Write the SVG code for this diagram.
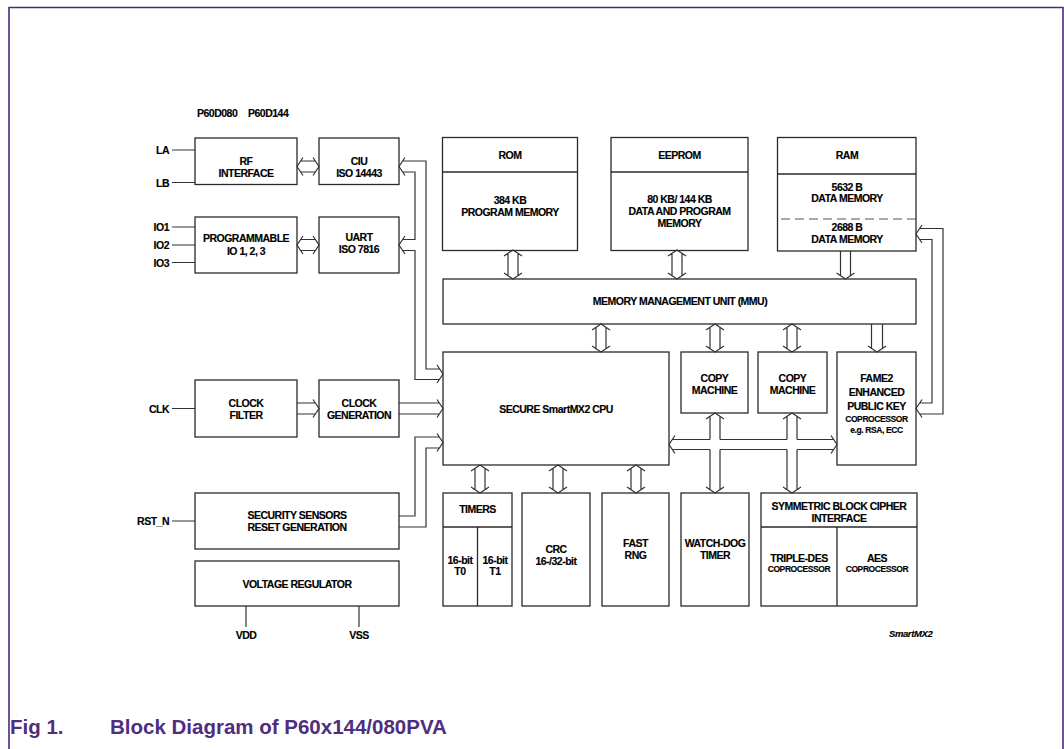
<svg xmlns="http://www.w3.org/2000/svg" width="1064" height="749" viewBox="0 0 1064 749">
<style>
.frame{fill:none;stroke:#4b2a7b;stroke-width:1.6}
.b{fill:#fff;stroke:#2a2a2a;stroke-width:1.3}
.d{fill:none;stroke:#2a2a2a;stroke-width:1.3}
.dash{fill:none;stroke:#555;stroke-width:1.2;stroke-dasharray:9,5}
.c{fill:none;stroke:#333;stroke-width:1.2;stroke-linejoin:miter}
.t{font-family:"Liberation Sans",Arial,sans-serif;font-weight:bold;font-size:10.5px;letter-spacing:-0.5px;text-anchor:middle;fill:#000;stroke:#000;stroke-width:0.15}
.s{font-size:8.5px;letter-spacing:-0.4px}
.l{text-anchor:end}
.st{text-anchor:start}
.cap{font-family:"Liberation Sans",Arial,sans-serif;font-weight:bold;font-size:20.5px;fill:#4f2d7f}
</style>
<rect width="1064" height="749" fill="#fff"/>
<path class="frame" d="M9,749 V7.5 H1063 V749"/>

<text class="t st" x="197" y="117">P60D080</text>
<text class="t st" x="248" y="117">P60D144</text>

<g id="pins">
<path class="c" d="M172,150 H195 M172,182.5 H195 M172,227 H195 M172,245 H195 M172,262.5 H195 M172,408.5 H195 M172,521 H195 M246,606 V627 M359,606 V627"/>
<text class="t l" x="169" y="154">LA</text>
<text class="t l" x="169" y="186.5">LB</text>
<text class="t l" x="169" y="231">IO1</text>
<text class="t l" x="169" y="249">IO2</text>
<text class="t l" x="169" y="266.5">IO3</text>
<text class="t l" x="169" y="412.5">CLK</text>
<text class="t l" x="169" y="525">RST_N</text>
<text class="t" x="246" y="639">VDD</text>
<text class="t" x="359" y="639">VSS</text>
</g>

<g id="rf">
<rect class="b" x="195" y="138" width="102" height="46.5"/>
<text class="t" x="246" y="164.5">RF</text>
<text class="t" x="246" y="176.5">INTERFACE</text>
</g>
<g id="ciu">
<rect class="b" x="319" y="138" width="80" height="46.5"/>
<text class="t" x="359" y="164.5">CIU</text>
<text class="t" x="359" y="176.5">ISO 14443</text>
</g>
<g id="pio">
<rect class="b" x="195" y="217" width="102" height="56"/>
<text class="t" x="246" y="242">PROGRAMMABLE</text>
<text class="t" x="246" y="254.5">IO 1, 2, 3</text>
</g>
<g id="uart">
<rect class="b" x="319" y="217" width="80" height="56"/>
<text class="t" x="359" y="241">UART</text>
<text class="t" x="359" y="253">ISO 7816</text>
</g>
<g id="clkfilter">
<rect class="b" x="195" y="380" width="102" height="57"/>
<text class="t" x="246" y="407">CLOCK</text>
<text class="t" x="246" y="419">FILTER</text>
</g>
<g id="clkgen">
<rect class="b" x="319" y="380" width="80" height="57"/>
<text class="t" x="359" y="407">CLOCK</text>
<text class="t" x="359" y="419">GENERATION</text>
</g>
<g id="security">
<rect class="b" x="195" y="493" width="204" height="56"/>
<text class="t" x="297" y="519">SECURITY SENSORS</text>
<text class="t" x="297" y="531">RESET GENERATION</text>
</g>
<g id="vreg">
<rect class="b" x="195" y="561" width="204" height="45"/>
<text class="t" x="297" y="588">VOLTAGE REGULATOR</text>
</g>

<g id="rom">
<rect class="b" x="442.5" y="137.5" width="135" height="113"/>
<path class="d" d="M442.5,172 H577.5"/>
<text class="t" x="510" y="159">ROM</text>
<text class="t" x="510" y="204">384 KB</text>
<text class="t" x="510" y="216">PROGRAM MEMORY</text>
</g>
<g id="eeprom">
<rect class="b" x="611" y="137.5" width="137" height="113"/>
<path class="d" d="M611,172 H748"/>
<text class="t" x="679.5" y="159">EEPROM</text>
<text class="t" x="679.5" y="203">80 KB/ 144 KB</text>
<text class="t" x="679.5" y="215">DATA AND PROGRAM</text>
<text class="t" x="679.5" y="226.5">MEMORY</text>
</g>
<g id="ram">
<rect class="b" x="777.5" y="137.5" width="138.5" height="113.5"/>
<path class="d" d="M777.5,174 H916"/>
<path class="dash" d="M781,219 H916"/>
<text class="t" x="847" y="159">RAM</text>
<text class="t" x="847" y="190.5">5632 B</text>
<text class="t" x="847" y="202">DATA MEMORY</text>
<text class="t" x="847" y="231">2688 B</text>
<text class="t" x="847" y="242.5">DATA MEMORY</text>
</g>
<g id="mmu">
<rect class="b" x="443" y="279" width="473" height="45"/>
<text class="t" x="680" y="305">MEMORY MANAGEMENT UNIT (MMU)</text>
</g>
<g id="cpu">
<rect class="b" x="443" y="352" width="226" height="113"/>
<text class="t" x="556" y="412.5">SECURE SmartMX2 CPU</text>
</g>
<g id="copy1">
<rect class="b" x="681" y="352" width="67" height="61"/>
<text class="t" x="714.5" y="382">COPY</text>
<text class="t" x="714.5" y="394">MACHINE</text>
</g>
<g id="copy2">
<rect class="b" x="758" y="352" width="69" height="61"/>
<text class="t" x="792.5" y="382">COPY</text>
<text class="t" x="792.5" y="394">MACHINE</text>
</g>
<g id="fame">
<rect class="b" x="837" y="352" width="79" height="113"/>
<text class="t" x="876.5" y="382">FAME2</text>
<text class="t" x="876.5" y="396">ENHANCED</text>
<text class="t" x="876.5" y="409.5">PUBLIC KEY</text>
<text class="t s" x="876.5" y="422">COPROCESSOR</text>
<text class="t s" x="876.5" y="433">e.g. RSA, ECC</text>
</g>
<g id="timers">
<rect class="b" x="443" y="493" width="69" height="113"/>
<path class="d" d="M443,527 H512 M477.5,527 V606"/>
<text class="t" x="477.5" y="513">TIMERS</text>
<text class="t" x="460" y="564">16-bit</text>
<text class="t" x="460" y="575">T0</text>
<text class="t" x="495" y="564">16-bit</text>
<text class="t" x="495" y="575">T1</text>
</g>
<g id="crc">
<rect class="b" x="522" y="493" width="68" height="113"/>
<text class="t" x="556" y="553">CRC</text>
<text class="t" x="556" y="565">16-/32-bit</text>
</g>
<g id="rng">
<rect class="b" x="602" y="493" width="67" height="113"/>
<text class="t" x="635.5" y="547">FAST</text>
<text class="t" x="635.5" y="559">RNG</text>
</g>
<g id="watchdog">
<rect class="b" x="681" y="493" width="68" height="113"/>
<text class="t" x="715" y="547">WATCH-DOG</text>
<text class="t" x="715" y="559">TIMER</text>
</g>
<g id="symmetric">
<rect class="b" x="761" y="493" width="156" height="113"/>
<path class="d" d="M761,527 H917 M837,527 V606"/>
<text class="t" x="839" y="510">SYMMETRIC BLOCK CIPHER</text>
<text class="t" x="839" y="521.5">INTERFACE</text>
<text class="t" x="799" y="562">TRIPLE-DES</text>
<text class="t s" x="799" y="572">COPROCESSOR</text>
<text class="t" x="877" y="562">AES</text>
<text class="t s" x="877" y="572">COPROCESSOR</text>
</g>

<g id="connectors">
<path class="c" d="M303,157.5 L297,166.5 L303,175.5 M313,157.5 L319,166.5 L313,175.5 M300.7,161 H315.3 M300.7,172 H315.3"/>
<path class="c" d="M303,236 L297,245 L303,254 M313,236 L319,245 L313,254 M300.7,239.5 H315.3 M300.7,250.5 H315.3"/>
<path class="c" d="M405,157.5 L399,166.5 L405,175.5 M402.7,161 H426 V369 H439.3 M402.7,172 H415 V239.5 H402.7 M405,236 L399,245 L405,254 M402.7,250.5 H415 V379.5 H439.3 M437,365 L443,374 L437,383"/>
<path class="c" d="M297,403 H315.3 M297,414 H315.3 M313,399.5 L319,408.5 L313,417.5"/>
<path class="c" d="M399,403 H439.3 M399,414 H439.3 M437,399.5 L443,408.5 L437,417.5"/>
<path class="c" d="M399,516 H415 V437 H439.3 M399,527 H426 V448 H439.3 M437,433.5 L443,442.5 L437,451.5"/>
<path class="c" d="M504,256 L513,250 L522,256 M504,273 L513,279 L522,273 M508,253.3 V275.7 M518,253.3 V275.7"/>
<path class="c" d="M668,256 L677,250 L686,256 M668,273 L677,279 L686,273 M672,253.3 V275.7 M682,253.3 V275.7"/>
<path class="c" d="M840.5,251 V275.7 M850.5,251 V275.7 M836.5,273 L845.5,279 L854.5,273"/>
<path class="c" d="M592,330 L601,324 L610,330 M592,346 L601,352 L610,346 M596,327.3 V348.7 M606,327.3 V348.7"/>
<path class="c" d="M706,330 L715,324 L724,330 M706,346 L715,352 L724,346 M710,327.3 V348.7 M720,327.3 V348.7"/>
<path class="c" d="M783,330 L792,324 L801,330 M783,346 L792,352 L801,346 M787,327.3 V348.7 M797,327.3 V348.7"/>
<path class="c" d="M871.5,324 V348.3 M882.5,324 V348.3 M868,346 L877,352 L886,346"/>
<path class="c" d="M471,471 L480,465 L489,471 M471,487 L480,493 L489,487 M475,468.3 V489.7 M485,468.3 V489.7"/>
<path class="c" d="M549,471 L558,465 L567,471 M549,487 L558,493 L567,487 M553,468.3 V489.7 M563,468.3 V489.7"/>
<path class="c" d="M627,471 L636,465 L645,471 M627,487 L636,493 L645,487 M631,468.3 V489.7 M641,468.3 V489.7"/>
<path class="c" d="M675,435.5 L669,444.5 L675,453.5 M831,435.5 L837,444.5 L831,453.5 M672.3,439.5 H710 M720,439.5 H787 M797,439.5 H833.7 M672.3,449.5 H710 M720,449.5 H787 M797,449.5 H833.7"/>
<path class="c" d="M706,419 L715,413 L724,419 M706,487 L715,493 L724,487 M710,416.3 V439.5 M720,416.3 V439.5 M710,449.5 V489.7 M720,449.5 V489.7"/>
<path class="c" d="M783,419 L792,413 L801,419 M783,487 L792,493 L801,487 M787,416.3 V439.5 M797,416.3 V439.5 M787,449.5 V489.7 M797,449.5 V489.7"/>
<path class="c" d="M922,225 L916,234 L922,243 M919.7,228.5 H943 V414 H919.7 M919.7,239.5 H932 V403 H919.7 M922,399.5 L916,408.5 L922,417.5"/>
</g>

<text class="t st" x="889" y="637" style="font-size:9.5px;font-style:italic;letter-spacing:-0.4px">SmartMX2</text>
<text class="cap" x="10" y="734">Fig 1.</text>
<text class="cap" x="110" y="734">Block Diagram of P60x144/080PVA</text>
</svg>
